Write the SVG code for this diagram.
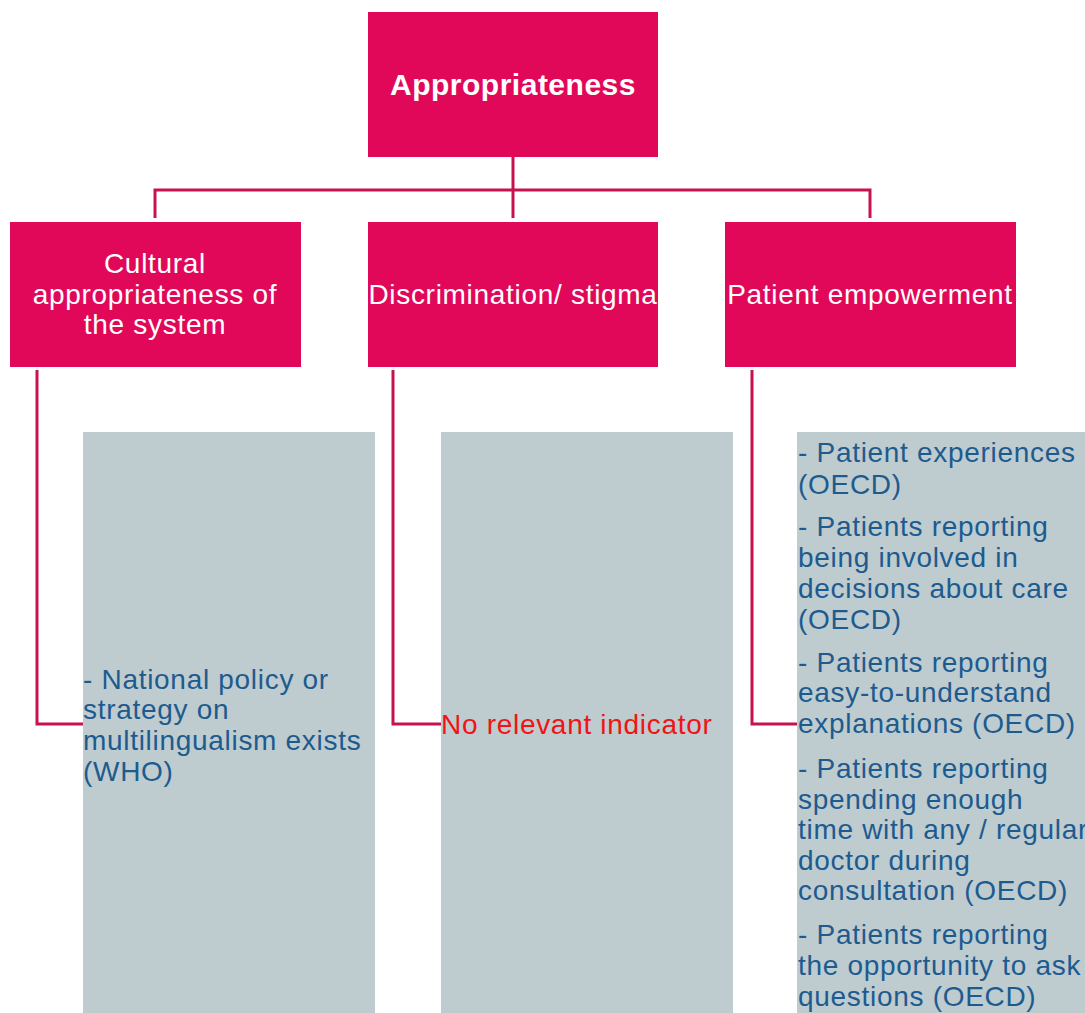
<svg xmlns="http://www.w3.org/2000/svg" width="1085" height="1013" viewBox="0 0 1085 1013">
<style>
.hdr{fill:#e1085a}
.grey{fill:#becbcf}
.wt{font-family:"Liberation Sans",Arial,sans-serif;font-size:28px;letter-spacing:0.7px;fill:#ffffff;text-anchor:middle}
.bt{font-family:"Liberation Sans",Arial,sans-serif;font-size:28px;letter-spacing:0.7px;fill:#1d5b8f}
.rt{font-family:"Liberation Sans",Arial,sans-serif;font-size:28px;letter-spacing:0.7px;fill:#f01414}
.conn{fill:none;stroke:#c8124f;stroke-width:3}
</style>
<rect width="1085" height="1013" fill="#ffffff"/>
<g id="connectors">
<path class="conn" d="M513 157 V218 M155 218 V190 H870 V218"/>
<path class="conn" d="M37 370 V724 H83"/>
<path class="conn" d="M393 370 V724 H441"/>
<path class="conn" d="M752 370 V724 H797"/>
</g>
<g id="root">
<rect class="hdr" x="368" y="12" width="290" height="145"/>
<text class="wt" x="513" y="95" style="font-weight:bold;font-size:30px;letter-spacing:0.5px">Appropriateness</text>
</g>
<g id="cultural">
<rect class="hdr" x="10" y="222" width="291" height="145"/>
<text class="wt" x="155" y="273">Cultural</text>
<text class="wt" x="155" y="304">appropriateness of</text>
<text class="wt" x="155" y="334">the system</text>
</g>
<g id="discrimination">
<rect class="hdr" x="368" y="222" width="290" height="145"/>
<text class="wt" x="513" y="304">Discrimination/ stigma</text>
</g>
<g id="empowerment">
<rect class="hdr" x="725" y="222" width="291" height="145"/>
<text class="wt" x="870" y="304">Patient empowerment</text>
</g>
<g id="cultural-indicators">
<rect class="grey" x="83" y="432" width="292" height="581"/>
<text class="bt" x="83" y="689">- National policy or</text>
<text class="bt" x="83" y="719">strategy on</text>
<text class="bt" x="83" y="750">multilingualism exists</text>
<text class="bt" x="83" y="781">(WHO)</text>
</g>
<g id="discrimination-indicators">
<rect class="grey" x="441" y="432" width="292" height="581"/>
<text class="rt" x="441" y="734">No relevant indicator</text>
</g>
<g id="empowerment-indicators">
<rect class="grey" x="797" y="432" width="288" height="581"/>
<text class="bt" x="798" y="462">- Patient experiences</text>
<text class="bt" x="798" y="494">(OECD)</text>
<text class="bt" x="798" y="536">- Patients reporting</text>
<text class="bt" x="798" y="567">being involved in</text>
<text class="bt" x="798" y="598">decisions about care</text>
<text class="bt" x="798" y="629">(OECD)</text>
<text class="bt" x="798" y="672">- Patients reporting</text>
<text class="bt" x="798" y="702">easy-to-understand</text>
<text class="bt" x="798" y="733">explanations (OECD)</text>
<text class="bt" x="798" y="778">- Patients reporting</text>
<text class="bt" x="798" y="809">spending enough</text>
<text class="bt" x="798" y="839">time with any / regular</text>
<text class="bt" x="798" y="870">doctor during</text>
<text class="bt" x="798" y="900">consultation (OECD)</text>
<text class="bt" x="798" y="944">- Patients reporting</text>
<text class="bt" x="798" y="975">the opportunity to ask</text>
<text class="bt" x="798" y="1006">questions (OECD)</text>
</g>
</svg>
